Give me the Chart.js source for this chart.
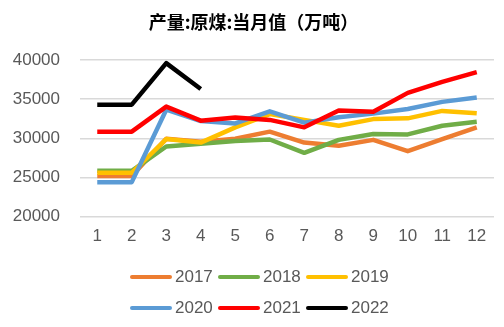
<!DOCTYPE html>
<html>
<head>
<meta charset="utf-8">
<script src="https://cdn.jsdelivr.net/npm/chart.js@4/dist/chart.umd.min.js"></script>
<style>
  html, body { margin: 0; padding: 0; background: #fff; }
  #wrap { position: relative; width: 504px; height: 327px; }
  #legend { position: absolute; left: 130px; top: 261px; width: 300px; font-family: "Liberation Sans", Arial, sans-serif; font-size: 17px; color: #595959; }
  .row { display: flex; height: 31px; align-items: center; }
  .item { display: flex; align-items: center; width: 88px; }
  .sw { display: inline-block; width: 42px; height: 4px; border-radius: 2px; margin-right: 3px; }
</style>
</head>
<body>
<div id="wrap">
  <canvas id="c" width="504" height="327"></canvas>
  <div id="legend"></div>
</div>
<script>
const titleText = "产量:原煤:当月值（万吨）";
const months = ["1","2","3","4","5","6","7","8","9","10","11","12"];
const seriesNames = ["2017","2018","2019","2020","2021","2022"];
const seriesColors = ["#ED7D31","#70AD47","#FFC000","#5B9BD5","#FF0000","#000000"];
const y2017 = [25200,25200,29950,29550,29950,30850,29450,29050,29800,28350,29900,31400];
const y2018 = [25850,25850,28950,29300,29650,29850,28150,29800,30550,30500,31600,32100];
const y2019 = [25600,25600,29900,29450,31400,33100,32350,31600,32450,32550,33500,33200];
const y2020 = [24400,24400,33650,32200,31900,33450,32000,32700,33150,33750,34650,35200];
const y2021 = [30850,30850,34050,32250,32650,32350,31400,33550,33400,35800,37200,38450];
const y2022 = [34300,34300,39600,36300];
const yTicks = [20000,25000,30000,35000,40000];

const allSeries = [y2017,y2018,y2019,y2020,y2021,y2022];

const datasets = allSeries.map((d, i) => ({
  label: seriesNames[i],
  data: d,
  borderColor: seriesColors[i],
  backgroundColor: seriesColors[i],
  borderWidth: 4.5,
  pointRadius: 0,
  pointHoverRadius: 0,
  tension: 0,
  fill: false,
  borderJoinStyle: 'round',
  order: allSeries.length - i
}));

new Chart(document.getElementById('c'), {
  type: 'line',
  data: { labels: months, datasets },
  options: {
    responsive: false,
    animation: false,
    events: [],
    layout: { padding: { left: 13, right: 10, top: 0, bottom: 70 } },
    plugins: {
      legend: { display: false },
      tooltip: { enabled: false },
      title: {
        display: true,
        text: titleText,
        color: '#000',
        font: { family: '"Noto Sans CJK SC", sans-serif', size: 18, weight: 'bold' },
        padding: { top: 11, bottom: 27.4 }
      }
    },
    scales: {
      x: {
        offset: true,
        grid: { display: false, drawTicks: false },
        border: { display: false },
        ticks: {
          color: '#595959',
          padding: 10,
          maxRotation: 0,
          font: { family: '"Liberation Sans", Arial, sans-serif', size: 17 }
        }
      },
      y: {
        min: yTicks[0],
        max: yTicks[yTicks.length - 1],
        afterBuildTicks: (axis) => { axis.ticks = yTicks.map(v => ({ value: v })); },
        afterFit: (axis) => { axis.width = 67; },
        grid: { color: '#D9D9D9', lineWidth: 1.5, drawTicks: false },
        border: { display: false },
        ticks: {
          color: '#595959',
          padding: 20,
          callback: (v) => String(v),
          font: { family: '"Liberation Sans", Arial, sans-serif', size: 17 }
        }
      }
    }
  }
});

// legend
const legend = document.getElementById('legend');
for (let r = 0; r < 2; r++) {
  const row = document.createElement('div');
  row.className = 'row';
  for (let k = 0; k < 3; k++) {
    const i = r * 3 + k;
    const item = document.createElement('div');
    item.className = 'item';
    const sw = document.createElement('span');
    sw.className = 'sw';
    sw.style.background = seriesColors[i];
    const tx = document.createElement('span');
    tx.textContent = seriesNames[i];
    item.appendChild(sw);
    item.appendChild(tx);
    row.appendChild(item);
  }
  legend.appendChild(row);
}
</script>
</body>
</html>
